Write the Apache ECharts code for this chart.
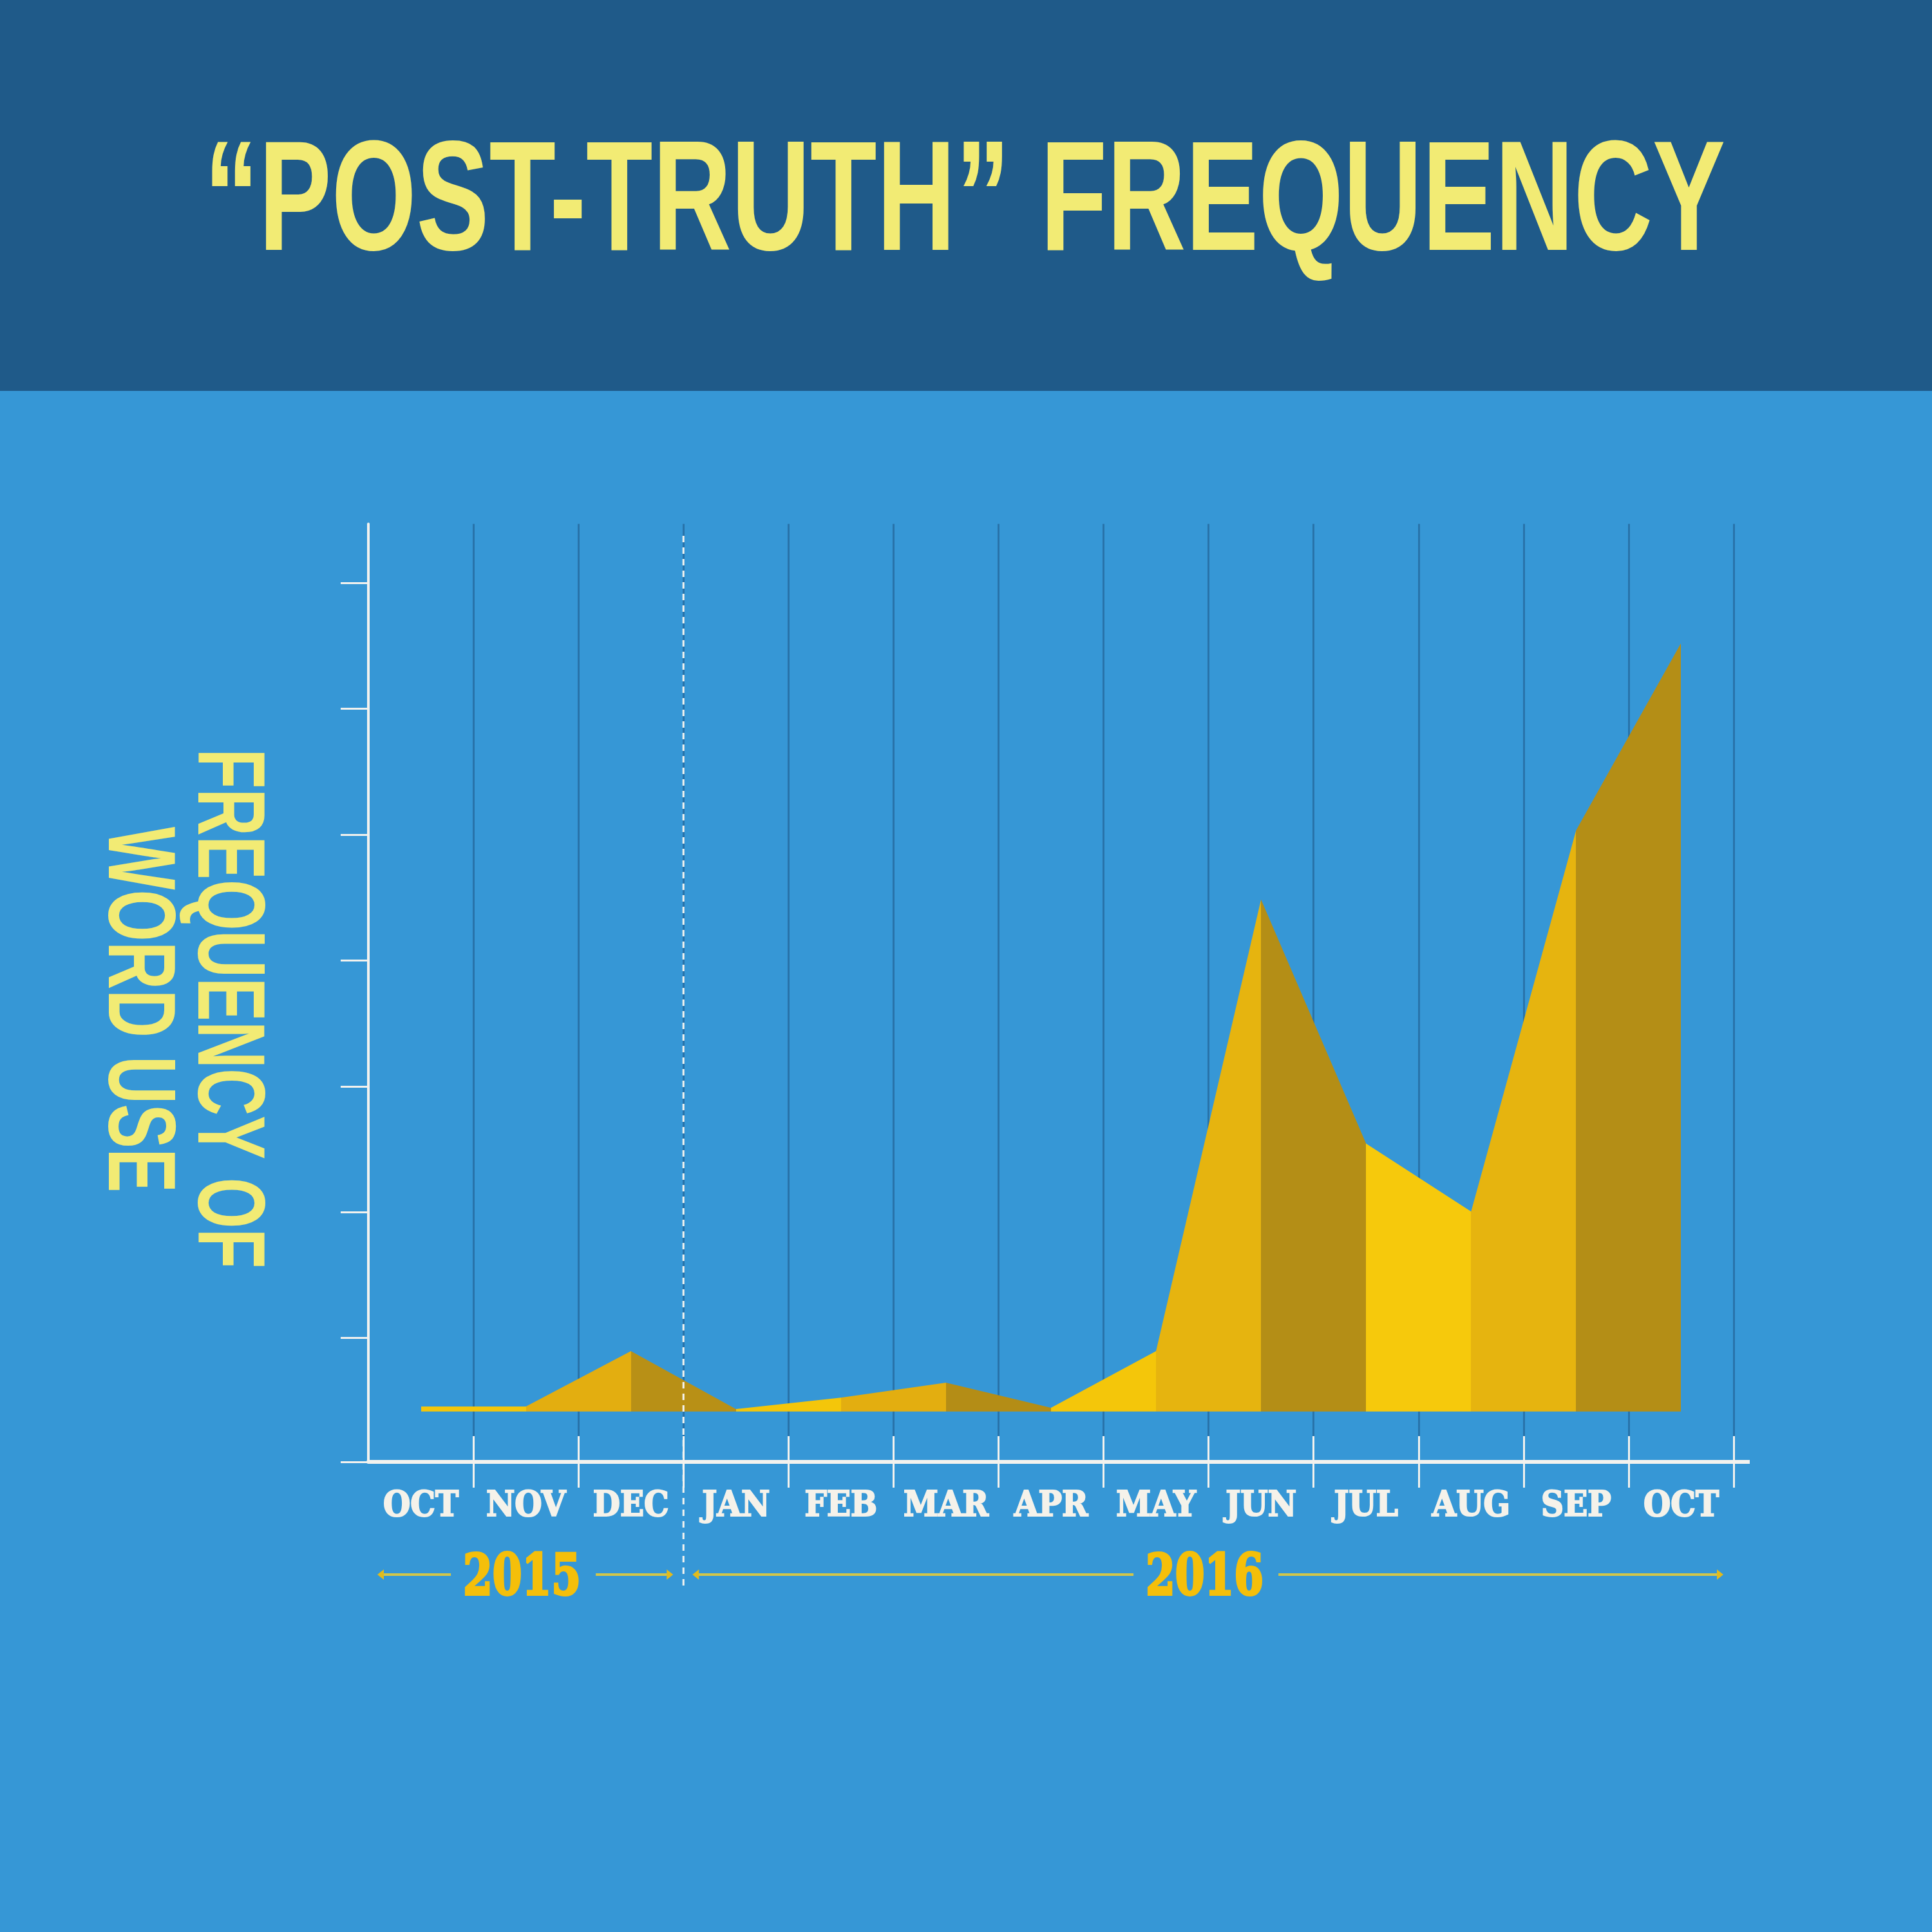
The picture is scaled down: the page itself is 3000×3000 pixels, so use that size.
<!DOCTYPE html>
<html>
<head>
<meta charset="utf-8">
<script src="https://cdn.jsdelivr.net/npm/echarts@6/dist/echarts.min.js"></script>
<style>
html,body{margin:0;padding:0;background:#3697d6;}
#c{width:3000px;height:3000px;}
</style>
</head>
<body>
<div id="c"></div>
<script>
// ---- data ----
const months = ['OCT','NOV','DEC','JAN','FEB','MAR','APR','MAY','JUN','JUL','AUG','SEP','OCT'];
const frequency = [0.04, 0.04, 0.48, 0.02, 0.11, 0.23, 0.03, 0.48, 4.07, 2.13, 1.59, 4.62, 6.11];
const segmentColors = ['#f4c60a','#e3ae10','#b89016','#f4c60a','#e3ae10','#b48d16',
                       '#f4c60a','#e6b40f','#b48e16','#f6c90c','#e6b40f','#b48e16'];
const yTickValues = [-0.4, 0.585, 1.585, 2.585, 3.585, 4.585, 5.585, 6.585];
const yearLabels = ['2015', '2016'];
const yearFirstMonth = [0, 3];
const yearLastMonth = [2, 12];
const titleText = '\u201CPOST-TRUTH\u201D FREQUENCY';
const yLabelLines = ['FREQUENCY OF', 'WORD USE'];

const Y_MIN = -0.4, Y_MAX = 7.055;
const WHITE = '#f3f2ee';

const chart = echarts.init(document.getElementById('c'), null, {renderer: 'canvas'});

const labelFont = {
  color: '#f5f2ea',
  fontFamily: '"DejaVu Serif Condensed","DejaVu Serif",serif',
  fontWeight: 'bold',
  fontSize: 54,
  textBorderColor: '#f5f2ea',
  textBorderWidth: 2
};

chart.setOption({
  backgroundColor: '#3697d6',
  animation: false,
  grid: {left: 572, top: 813.5, width: 2120, height: 1456.5, containLabel: false},
  xAxis: [{
    type: 'category',
    data: months,
    boundaryGap: true,
    position: 'bottom',
    axisLine: {show: true, onZero: false, lineStyle: {color: WHITE, width: 6}},
    axisTick: {show: true, inside: true, length: 40, lineStyle: {color: WHITE, width: 3}},
    axisLabel: Object.assign({show: true, interval: 0, margin: 43}, labelFont),
    splitLine: {show: true, lineStyle: {color: 'rgba(20,62,105,0.4)', width: 3}}
  }, {
    type: 'category',
    data: months,
    boundaryGap: true,
    position: 'bottom',
    offset: 0,
    axisLine: {show: false, onZero: false},
    axisTick: {show: true, inside: false, length: 40,
      interval: function (i) { return i !== 0; },
      lineStyle: {color: WHITE, width: 3}},
    axisLabel: {show: false},
    splitLine: {show: false}
  }],
  yAxis: {
    type: 'value',
    min: Y_MIN,
    max: Y_MAX,
    axisLine: {show: true, lineStyle: {color: WHITE, width: 4}},
    axisTick: {show: true, customValues: yTickValues, length: 43, lineStyle: {color: WHITE, width: 3}},
    axisLabel: {show: false},
    splitLine: {show: false}
  },
  visualMap: {
    type: 'piecewise',
    show: false,
    dimension: 0,
    seriesIndex: 0,
    pieces: segmentColors.map(function (c, i) {
      return i === segmentColors.length - 1 ? {gte: i, lte: i + 1, color: c} : {gte: i, lt: i + 1, color: c};
    })
  },
  series: [{
    type: 'line',
    xAxisIndex: 0,
    data: frequency,
    symbol: 'none',
    smooth: false,
    lineStyle: {width: 0},
    areaStyle: {opacity: 1, origin: 'auto'},
    z: 3
  }]
});

// ---- decorations computed from the axes ----
const mctx = document.createElement('canvas').getContext('2d');
function textWidth(font, text) { mctx.font = font; return mctx.measureText(text).width; }

function cx(i) { return chart.convertToPixel({xAxisIndex: 0}, i); }
const band = cx(1) - cx(0);
const rightEdge = cx(months.length - 1) + band / 2;
const axisY = chart.convertToPixel({yAxisIndex: 0}, Y_MIN);

const titleFont = 'bold 244px "Liberation Sans"';
const yLabFont = 'bold 149px "Liberation Sans"';
const yearFont = 'bold 88px "DejaVu Serif"';

const graphics = [];
// top dark band
graphics.push({type: 'rect', z: 0, shape: {x: 0, y: 0, width: 3000, height: 607}, style: {fill: '#1f5a89'}});
// title
graphics.push({
  type: 'text', x: 1498, y: 321, z: 10,
  scaleX: 2362 / textWidth(titleFont, titleText),
  style: {text: titleText, font: titleFont, fill: '#f2eb74', align: 'center', verticalAlign: 'middle',
          textAlign: 'center', textVerticalAlign: 'middle'}
});
// y axis name (rotated)
const yLabPos = [[349, 1566, 807], [210, 1568, 568]];
yLabelLines.forEach(function (t, k) {
  graphics.push({
    type: 'text', x: yLabPos[k][0], y: yLabPos[k][1], rotation: -Math.PI / 2, z: 10,
    scaleX: yLabPos[k][2] / textWidth(yLabFont, t),
    style: {text: t, font: yLabFont, fill: '#f2eb74', align: 'center', verticalAlign: 'middle',
            textAlign: 'center', textVerticalAlign: 'middle'}
  });
});
// x axis line extension to the right
graphics.push({type: 'line', z: 10, shape: {x1: rightEdge, y1: axisY, x2: rightEdge + 25, y2: axisY},
  style: {stroke: WHITE, lineWidth: 6}});
// dashed year separator
const sepX = (cx(2) + cx(3)) / 2;
graphics.push({type: 'line', z: 10, shape: {x1: sepX, y1: 832, x2: sepX, y2: 2467},
  style: {stroke: '#f4f4f0', lineWidth: 3, lineDash: [10, 8]}});
// year brackets
const yearY = 2453, brY = 2445, bracketColor = '#d2c64a', arrowColor = '#e2bb1c';
yearLabels.forEach(function (lab, k) {
  const l = cx(yearFirstMonth[k]) - band / 2 + 14;
  const r = cx(yearLastMonth[k]) + band / 2 - 16;
  const mid = (cx(yearFirstMonth[k]) - band / 2 + cx(yearLastMonth[k]) + band / 2) / 2 - 6;
  const w = textWidth(yearFont, lab);
  const sx = 183 / w;
  const half = 189 / 2;
  graphics.push({
    type: 'text', x: mid, y: yearY, scaleX: sx, z: 10,
    style: {text: lab, font: yearFont, fill: '#f5bf0a', align: 'center', verticalAlign: 'middle',
            textAlign: 'center', textVerticalAlign: 'middle',
            stroke: '#f5bf0a', lineWidth: 4}
  });
  graphics.push({type: 'line', z: 10, shape: {x1: l + 6, y1: brY, x2: mid - half - 16, y2: brY},
    style: {stroke: bracketColor, lineWidth: 4}});
  graphics.push({type: 'line', z: 10, shape: {x1: mid + half + 20, y1: brY, x2: r - 6, y2: brY},
    style: {stroke: bracketColor, lineWidth: 4}});
  graphics.push({type: 'polygon', z: 10, shape: {points: [[l, brY], [l + 10, brY - 8], [l + 10, brY + 8]]},
    style: {fill: arrowColor}});
  graphics.push({type: 'polygon', z: 10, shape: {points: [[r, brY], [r - 10, brY - 8], [r - 10, brY + 8]]},
    style: {fill: arrowColor}});
});

chart.setOption({graphic: graphics});
</script>
</body>
</html>
